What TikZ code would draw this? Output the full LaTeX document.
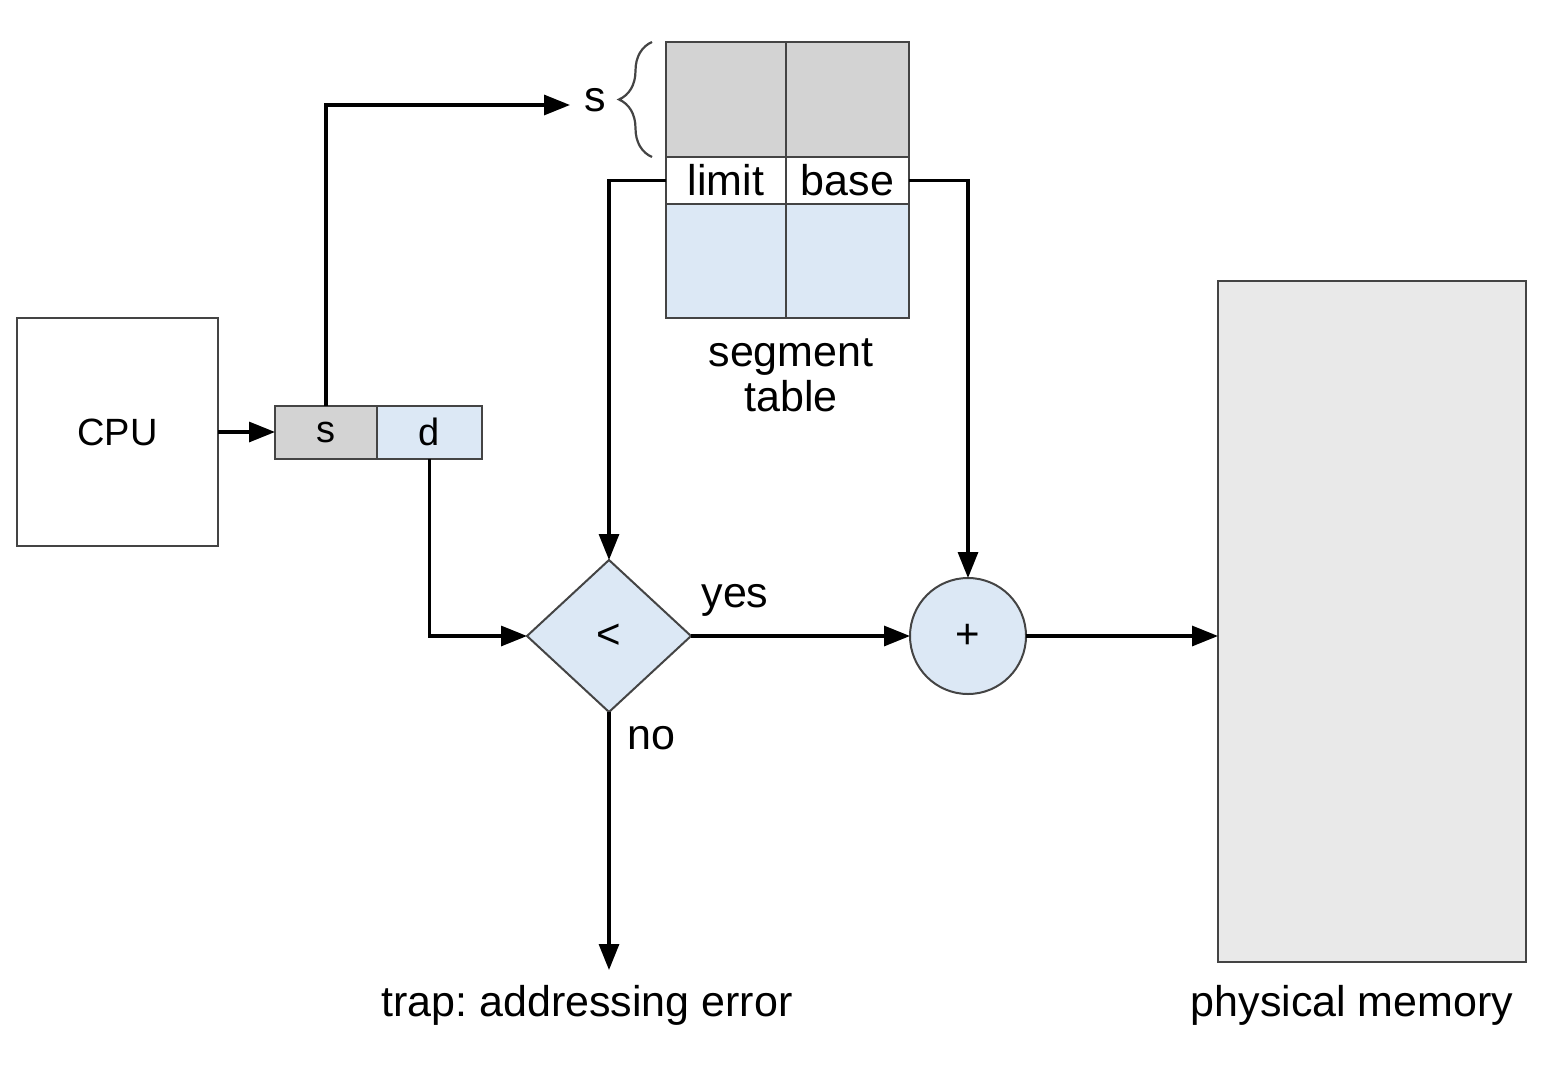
\documentclass[tikz,border=0pt]{standalone}
\usepackage{fontspec}
\setmainfont{Liberation Sans}
\usetikzlibrary{shapes.geometric,arrows.meta,decorations.pathreplacing}
\definecolor{cellgray}{HTML}{D3D3D3}
\definecolor{cellblue}{HTML}{DCE8F5}
\definecolor{memgray}{HTML}{E9E9E9}
\definecolor{edgegray}{HTML}{444444}
\frenchspacing
\tikzset{
  box/.style={draw=edgegray,line width=2pt,inner sep=0pt,outer sep=0pt},
  conn/.style={line width=3.2pt,-{Triangle[length=26pt,width=20pt]}},
  big/.style={font=\fontsize{43}{47}\selectfont},
  mid/.style={font=\fontsize{38}{42}\selectfont},
}
\begin{document}
\begin{tikzpicture}[x=1pt,y=-1pt]
\useasboundingbox (0,0) rectangle (1546,1078);
% CPU
\node[box,fill=white,minimum width=201pt,minimum height=228pt,mid] (cpu) at (117.5,432) {CPU};
% logical address register
\node[box,fill=cellgray,minimum width=102pt,minimum height=53pt,mid] (rs) at (326,432) {s};
\node[box,fill=cellblue,minimum width=105pt,minimum height=53pt,mid] (rd) at (429.5,432) {d};
% segment table
\node[box,fill=cellgray,minimum width=120pt,minimum height=115pt] (t1l) at (726,99.5) {};
\node[box,fill=cellgray,minimum width=123pt,minimum height=115pt] (t1r) at (847.5,99.5) {};
\node[box,fill=white,minimum width=120pt,minimum height=47pt,big] (limit) at (726,180.5) {limit};
\node[box,fill=white,minimum width=123pt,minimum height=47pt,big] (base) at (847.5,180.5) {base};
\node[box,fill=cellblue,minimum width=120pt,minimum height=114pt] (t3l) at (726,261) {};
\node[box,fill=cellblue,minimum width=123pt,minimum height=114pt] (t3r) at (847.5,261) {};
\node[big,align=center] (segt) at (791,375) {segment\\[-2pt]table};
% s label and brace
\node[big,inner sep=2pt] (slabel) at (595,100) {s};
\coordinate (sarrow) at (570,105);
\draw[edgegray,line width=2.2pt,decorate,decoration={brace,amplitude=33pt}] (652,157) -- (652,42);
% comparison
\node[box,fill=cellblue,diamond,minimum width=164pt,minimum height=152pt,font=\fontsize{42}{46}\selectfont] (lt) at (609,636) {<};
\node[box,fill=cellblue,circle,minimum size=116pt,font=\fontsize{42}{46}\selectfont] (plus) at (968,636) {+};
% memory
\node[box,fill=memgray,minimum width=308pt,minimum height=681pt] (mem) at (1372,621.5) {};
\node[big] (memlabel) at (1352,1005) {physical memory};
% trap
\node[big] (trap) at (587,1005) {trap: addressing error};
\coordinate (trapend) at (609,970);
% connectors
\draw[conn] (cpu.east) -- (rs.west);
\draw[conn] (rs.north) |- (sarrow);
\draw[conn] (limit.west) -| (lt.north);
\draw[conn] (base.east) -| (plus.north);
\draw[conn] (rd.south) |- (lt.west);
\draw[conn] (lt.east) -- (plus.west);
\draw[conn] (plus.east) -- (plus.east -| mem.west);
\draw[conn] (lt.south) -- (trapend);
% labels
\node[big] (yes) at (735,600) {yes};
\node[big] (no) at (651,738) {no};
\end{tikzpicture}
\end{document}
